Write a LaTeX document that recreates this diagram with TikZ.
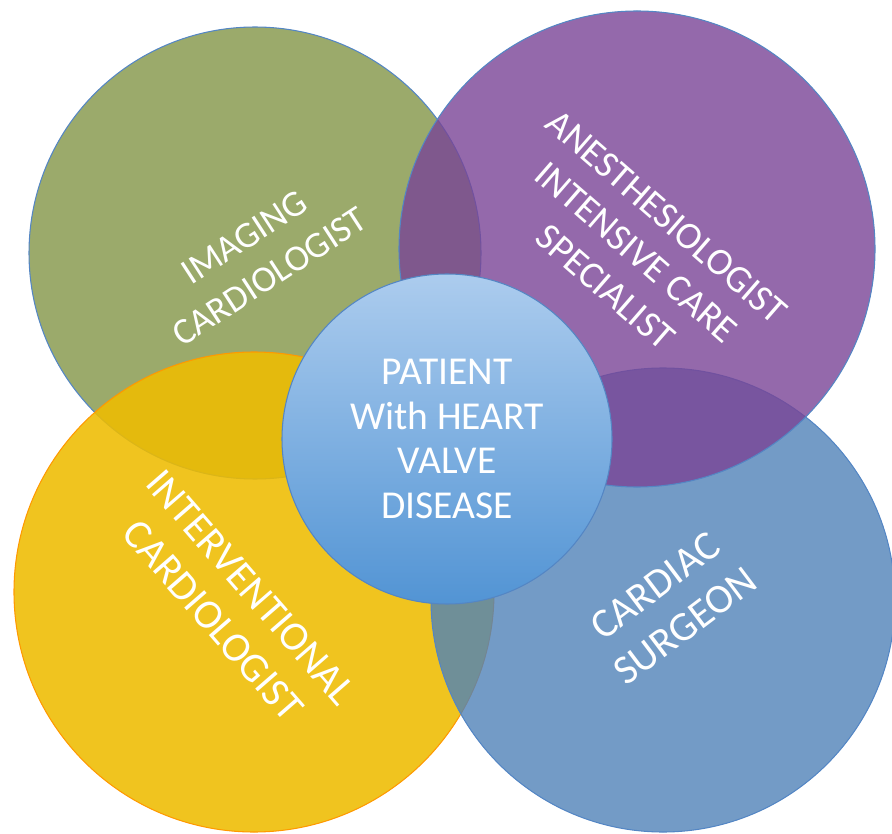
\documentclass[tikz,border=0pt]{standalone}
\usepackage{fontspec}
\setmainfont{Carlito}

\definecolor{imggreen}{RGB}{130,149,70}
\definecolor{intyellow}{RGB}{238,188,0}
\definecolor{surgblue}{RGB}{80,130,184}
\definecolor{anespurple}{RGB}{121,68,150}
\definecolor{ringline}{RGB}{84,134,196}
\definecolor{hubtop}{RGB}{172,204,238}
\definecolor{hubbottom}{RGB}{82,148,212}

\begin{document}
\begin{tikzpicture}[x=0.02cm, y=-0.02cm,
	ring/.style={circle, inner sep=0pt, minimum size=2*#1*0.02cm, line width=0.6pt, fill opacity=0.8},
	hub/.style={circle, inner sep=0pt, minimum size=2*#1*0.02cm, line width=0.6pt, draw=ringline,
		top color=hubtop, bottom color=hubbottom, text=white, align=center, font=\fontsize{22.5}{25.5}\selectfont},
	tag/.style={text=white, align=center, font=\fontsize{21}{26.5}\selectfont},
	bigtag/.style={text=white, align=center, font=\fontsize{23.5}{28.5}\selectfont}]
	\useasboundingbox (0,0) rectangle (892,834);

	% the four specialists
	\node[ring=226, fill=imggreen, draw=ringline] (imaging) at (255,253) {};
	\node[ring=240, fill=intyellow, fill opacity=0.88, draw=orange!80!yellow] (interv) at (254,592) {};
	\node[ring=232, fill=surgblue, draw=ringline] (surgeon) at (663,600) {};
	\node[ring=238, fill=anespurple, draw=ringline] (anesth) at (637,249) {};

	% the patient in the middle
	\node[hub=165] (patient) at (447,439) {PATIENT\\With HEART\\VALVE\\DISEASE};

	\node[tag, rotate=33] (imagingtxt) at (257,257) {IMAGING\\CARDIOLOGIST};
	\node[tag, font=\fontsize{21.7}{26.5}\selectfont, rotate=-41] (anesthtxt) at (636,252) {ANESTHESIOLOGIST\\INTENSIVE CARE\\SPECIALIST};
	\node[bigtag, rotate=-49] (intervtxt) at (232,604) {INTERVENTIONAL\\CARDIOLOGIST};
	\node[bigtag, rotate=37] (surgeontxt) at (670,606) {CARDIAC\\SURGEON};
\end{tikzpicture}
\end{document}
